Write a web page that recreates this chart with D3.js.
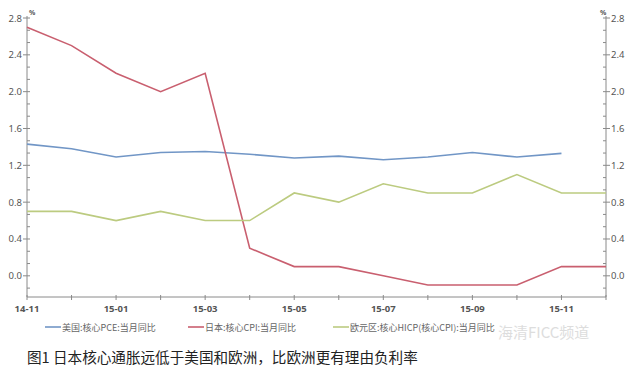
<!DOCTYPE html>
<html lang="zh">
<head>
<meta charset="UTF-8">
<title>日本核心通胀</title>
<script src="https://d3js.org/d3.v7.min.js"></script>
<style>
    body { margin: 0; background: #fff; }
    svg { display: block; font-family: "Noto Sans", "Noto Sans CJK SC", sans-serif; }
</style>
</head>
<body>
<div id="chart"></div>
<script>
// months on the x axis
const months = ["14-11","14-12","15-01","15-02","15-03","15-04","15-05","15-06","15-07","15-08","15-09","15-10","15-11","15-12"];
const labeledMonths = ["14-11","15-01","15-03","15-05","15-07","15-09","15-11"];
const yTicks = [0.0, 0.4, 0.8, 1.2, 1.6, 2.0, 2.4, 2.8];

// series values (%)
const usPce = [1.43, 1.38, 1.29, 1.34, 1.35, 1.32, 1.28, 1.30, 1.26, 1.29, 1.34, 1.29, 1.33, null];
const jpCpi = [2.7, 2.5, 2.2, 2.0, 2.2, 0.3, 0.1, 0.1, 0.0, -0.1, -0.1, -0.1, 0.1, 0.1];
const euHicp = [0.7, 0.7, 0.6, 0.7, 0.6, 0.6, 0.9, 0.8, 1.0, 0.9, 0.9, 1.1, 0.9, 0.9];

const seriesNames = ["美国:核心PCE:当月同比", "日本:核心CPI:当月同比", "欧元区:核心HICP(核心CPI):当月同比"];
const caption = "图1 日本核心通胀远低于美国和欧洲，比欧洲更有理由负利率";

const width = 640, height = 378;
const plotLeft = 27, plotRight = 606, plotTop = 18, plotBottom = 297;

const svg = d3.select("#chart").append("svg")
    .attr("width", width)
    .attr("height", height);

const x = d3.scalePoint().domain(months).range([plotLeft, plotRight]);
const y = d3.scaleLinear().domain([-0.23, 2.8]).range([plotBottom, plotTop]);

const axisColor = "#8a8a8a";
const minorTicks = d3.range(-1, 22).map(i => i * 0.4 / 3).filter(v => v <= 2.81 && v >= -0.22);

// left and right axes
[[plotLeft, -1], [plotRight, 1]].forEach(([ax, dir]) => {
    const g = svg.append("g");
    g.append("line")
        .attr("x1", ax).attr("x2", ax)
        .attr("y1", plotTop - 2).attr("y2", plotBottom)
        .attr("stroke", axisColor).attr("stroke-width", 1);
    minorTicks.forEach(v => {
        g.append("line")
            .attr("x1", ax).attr("x2", ax - dir * 3)
            .attr("y1", y(v)).attr("y2", y(v))
            .attr("stroke", axisColor);
    });
    yTicks.forEach(v => {
        g.append("line")
            .attr("x1", ax).attr("x2", ax + dir * 4)
            .attr("y1", y(v)).attr("y2", y(v))
            .attr("stroke", axisColor);
        g.append("text")
            .attr("x", ax + dir * 5)
            .attr("y", y(v) + 3.5)
            .attr("text-anchor", dir < 0 ? "end" : "start")
            .attr("font-size", 9.5)
            .attr("fill", "#555")
            .text(v.toFixed(1));
    });
    g.append("text")
        .attr("x", ax + (dir < 0 ? 2 : -6))
        .attr("y", plotTop - 3)
        .attr("font-size", 7)
        .attr("font-weight", "bold")
        .attr("fill", "#555")
        .text("%");
});

// bottom axis
const xg = svg.append("g");
xg.append("line")
    .attr("x1", plotLeft).attr("x2", plotRight)
    .attr("y1", plotBottom).attr("y2", plotBottom)
    .attr("stroke", axisColor);
months.forEach(m => {
    xg.append("line")
        .attr("x1", x(m)).attr("x2", x(m))
        .attr("y1", plotBottom - 2).attr("y2", plotBottom + 3)
        .attr("stroke", axisColor);
});
labeledMonths.forEach(m => {
    xg.append("text")
        .attr("x", x(m))
        .attr("y", plotBottom + 15)
        .attr("text-anchor", "middle")
        .attr("font-size", 9.5)
        .attr("font-weight", "bold")
        .attr("fill", "#555")
        .text(m);
});

// lines
const lines = [
    {data: usPce, color: "#7196c6", name: seriesNames[0]},
    {data: jpCpi, color: "#c95f6f", name: seriesNames[1]},
    {data: euHicp, color: "#bccb80", name: seriesNames[2]}
];

const lineGen = d3.line()
    .defined(d => d.v !== null)
    .x(d => x(d.m))
    .y(d => y(d.v));

lines.forEach(l => {
    svg.append("path")
        .datum(months.map((m, i) => ({m: m, v: l.data[i]})))
        .attr("fill", "none")
        .attr("stroke", l.color)
        .attr("stroke-width", 1.6)
        .attr("d", lineGen);
});

// watermark, kept just below the tick labels
svg.append("text")
    .attr("x", 498)
    .attr("y", 338)
    .attr("font-family", "Noto Sans CJK SC")
    .attr("font-size", 15)
    .attr("fill", "#c8c8c8")
    .attr("opacity", 0.6)
    .text("海清FICC频道");

// legend
const legendX = [45, 188, 333];
lines.forEach((l, i) => {
    svg.append("line")
        .attr("x1", legendX[i]).attr("x2", legendX[i] + 16)
        .attr("y1", 327).attr("y2", 327)
        .attr("stroke", l.color)
        .attr("stroke-width", 1.6);
    svg.append("text")
        .attr("x", legendX[i] + 17)
        .attr("y", 330.5)
        .attr("font-family", "Noto Sans CJK SC")
        .attr("font-size", 9)
        .attr("fill", "#666")
        .text(l.name);
});

// caption
svg.append("text")
    .attr("x", 27)
    .attr("y", 363)
    .attr("font-family", "Noto Sans CJK SC")
    .attr("font-size", 14.6)
    .attr("fill", "#222")
    .text(caption);
</script>
</body>
</html>
